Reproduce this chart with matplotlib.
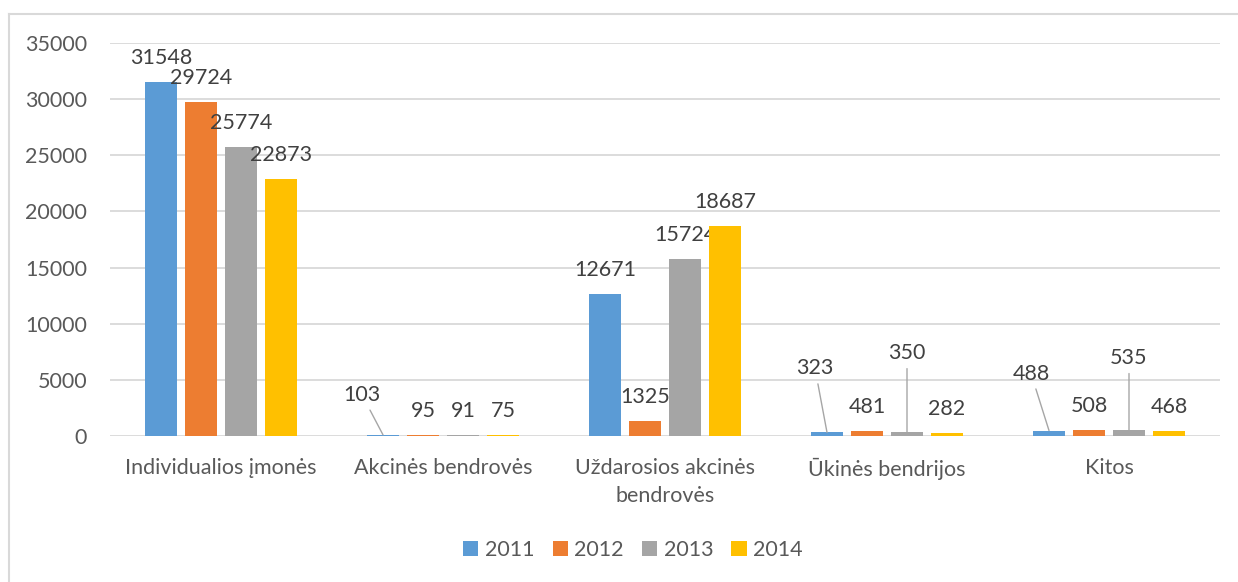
import numpy as np
import matplotlib.pyplot as plt
from matplotlib.lines import Line2D

plt.rcParams['font.family'] = ['Lato', 'DejaVu Sans']

categories = ["Individualios įmonės", "Akcinės bendrovės", "Uždarosios akcinės\nbendrovės",
              "Ūkinės bendrijos", "Kitos"]
years = ["2011", "2012", "2013", "2014"]
v2011 = [31548, 103, 12671, 323, 488]
v2012 = [29724, 95, 1325, 481, 508]
v2013 = [25774, 91, 15724, 350, 535]
v2014 = [22873, 75, 18687, 282, 468]
yticks = [0, 5000, 10000, 15000, 20000, 25000, 30000, 35000]

series = [v2011, v2012, v2013, v2014]
colors = ['#5B9BD5', '#ED7D31', '#A5A5A5', '#FFC000']
# labels pulled away from the bar with a leader line: (series, category) -> pixel offset
moved = {(0, 1): (-21, 40), (0, 3): (-12, 64), (2, 3): (0, 79),
         (0, 4): (-18, 57), (2, 4): (0, 72)}

fs = 15.5
fig = plt.figure(figsize=(12.38, 5.82), dpi=100)
ax = fig.add_axes([110/1238, 146/582, 1110/1238, 393/582])

x = np.arange(len(categories))
step, width = 40/222, 32/222
for i, (vals, c, yr) in enumerate(zip(series, colors, years)):
    xs = x + (i - 1.5)*step
    ax.bar(xs, vals, width, color=c, label=yr, zorder=3)
    for j, (xc, v) in enumerate(zip(xs, vals)):
        if (i, j) in moved:
            dx, dy = moved[(i, j)]
            ax.annotate(f"{v}", xy=(xc, v), xytext=(dx, dy), textcoords='offset pixels',
                        ha='center', va='center', fontsize=fs, color='#404040',
                        arrowprops=dict(arrowstyle='-', color='#a6a6a6', lw=1,
                                        shrinkA=2, shrinkB=0))
        else:
            ax.annotate(f"{v}", xy=(xc, v), xytext=(0, 24), textcoords='offset pixels',
                        ha='center', va='center', fontsize=fs, color='#404040')

ax.set_xlim(-0.5, len(categories) - 0.5)
ax.set_ylim(0, 35000)
ax.set_yticks(yticks)
ax.set_xticks(x)
ax.set_xticklabels(categories)
for t in ax.get_xticklabels():
    t.set_linespacing(1.5)
ax.tick_params(axis='y', length=0, pad=16.5, labelcolor='#595959', labelsize=fs)
ax.tick_params(axis='x', length=0, pad=16, labelcolor='#595959', labelsize=fs)
ax.yaxis.grid(True, color='#d9d9d9', lw=1.3)
ax.set_axisbelow(True)
for s in ax.spines.values():
    s.set_visible(False)

fig.legend(loc='center', bbox_to_anchor=(633/1238, 1 - 550/582), ncol=4, frameon=False,
           handlelength=0.7, handleheight=0.7, handletextpad=0.3, columnspacing=0.85,
           fontsize=fs, labelcolor='#595959')

# chart frame (cut off at right and bottom in the original)
fig.add_artist(Line2D([9/1238, 1], [1 - 14/582]*2, color='#d9d9d9', lw=1.5,
                      transform=fig.transFigure))
fig.add_artist(Line2D([9/1238]*2, [0, 1 - 14/582], color='#d9d9d9', lw=1.5,
                      transform=fig.transFigure))

fig.savefig('out.png', dpi=100)
